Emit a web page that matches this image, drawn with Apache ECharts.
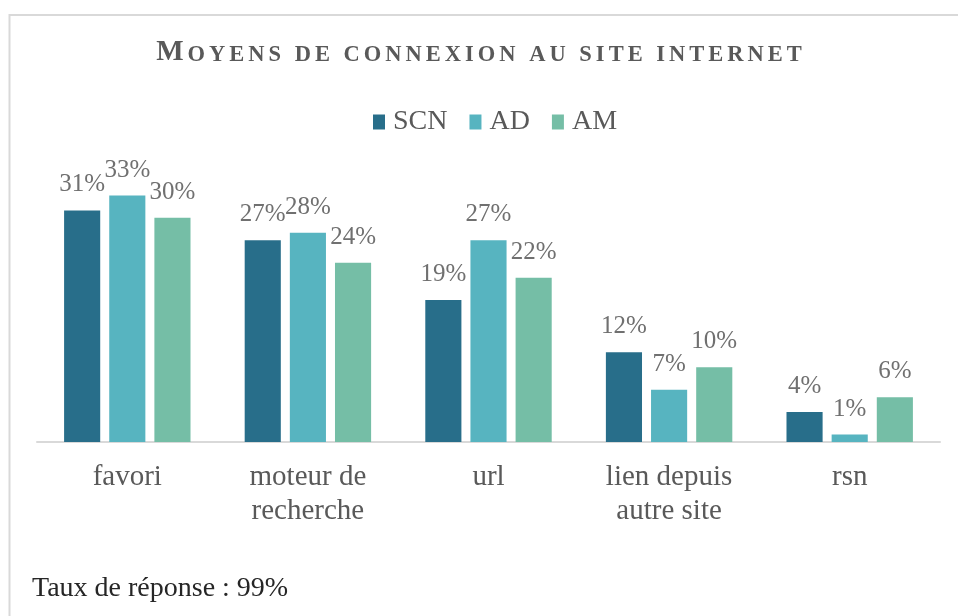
<!DOCTYPE html>
<html>
<head>
<meta charset="utf-8">
<script src="https://cdn.jsdelivr.net/npm/echarts@6/dist/echarts.min.js"></script>
<style>
  html, body { margin: 0; padding: 0; background: #ffffff; }
  #chart { width: 958px; height: 616px; }
</style>
</head>
<body>
<div id="chart"></div>
<script>
// Connection means, share of answers per group (%)
const categories = ['favori', 'moteur de\nrecherche', 'url', 'lien depuis\nautre site', 'rsn'];
const seriesNames = ['SCN', 'AD', 'AM'];
const scnValues = [31, 27, 19, 12, 4];
const adValues = [33, 28, 27, 7, 1];
const amValues = [30, 24, 22, 10, 6];
const titleText = 'Moyens de connexion au site internet';
const footnote = 'Taux de réponse : 99%';

const colors = ['#286E8A', '#57B4C0', '#75BEA6'];
const serif = '"Liberation Serif", "DejaVu Serif", serif';

// Small caps with expanded tracking: capitals keep the full size,
// lowercase letters are drawn as smaller capitals.
function smallCaps(str) {
  return str.split('').map(function (ch) {
    if (ch === ' ') return '{sp| }';
    if (ch === ch.toUpperCase()) return '{cap|' + ch + '}';
    return '{sc|' + ch.toUpperCase() + '}';
  }).join('');
}

const chart = echarts.init(document.getElementById('chart'), null, { renderer: 'canvas' });

const valueLists = [scnValues, adValues, amValues];
const series = seriesNames.map(function (name, i) {
  return {
    name: name,
    type: 'bar',
    data: valueLists[i],
    barGap: '25%',
    barCategoryGap: '30%',
    itemStyle: { color: colors[i] },
    label: {
      show: true,
      position: 'top',
      distance: 13,
      formatter: '{c}%',
      fontFamily: serif,
      fontSize: 25,
      color: '#707070'
    }
  };
});

const track = [0, 2, 0, 2];

chart.setOption({
  animation: false,
  color: colors,
  title: {
    text: smallCaps(titleText),
    left: 'center',
    top: 34,
    textStyle: {
      rich: {
        cap: { fontFamily: serif, fontWeight: 'bold', fontSize: 29, lineHeight: 28, color: '#595959', padding: track, verticalAlign: 'bottom' },
        sc: { fontFamily: serif, fontWeight: 'bold', fontSize: 22.5, lineHeight: 22, color: '#595959', padding: track, verticalAlign: 'bottom' },
        sp: { fontFamily: serif, fontSize: 22.5, lineHeight: 22, padding: track, verticalAlign: 'bottom' }
      }
    }
  },
  legend: {
    data: seriesNames,
    left: 368,
    top: 103,
    icon: 'rect',
    itemWidth: 12,
    itemHeight: 15,
    itemGap: 22,
    textStyle: {
      fontFamily: serif,
      fontSize: 28,
      color: '#595959',
      padding: [0, 0, 0, 3]
    }
  },
  grid: {
    left: 37,
    right: 18,
    top: 180.5,
    bottom: 174
  },
  xAxis: {
    type: 'category',
    data: categories,
    axisLine: { show: true, lineStyle: { color: '#d9d9d9', width: 2 } },
    axisTick: { show: false },
    axisLabel: {
      interval: 0,
      margin: 18,
      fontFamily: serif,
      fontSize: 29,
      lineHeight: 34,
      color: '#595959'
    }
  },
  yAxis: {
    type: 'value',
    min: 0,
    max: 35,
    interval: 5,
    show: false,
    splitLine: { show: false }
  },
  graphic: [
    {
      type: 'rect',
      silent: true,
      shape: { x: 9.5, y: 15, width: 1000, height: 700 },
      style: { fill: 'none', stroke: '#d9d9d9', lineWidth: 2 }
    },
    {
      type: 'text',
      silent: true,
      x: 32,
      y: 589,
      style: {
        text: footnote,
        fontFamily: serif,
        fontSize: 28,
        fill: '#262626',
        verticalAlign: 'middle'
      }
    }
  ],
  series: series
});
</script>
</body>
</html>
